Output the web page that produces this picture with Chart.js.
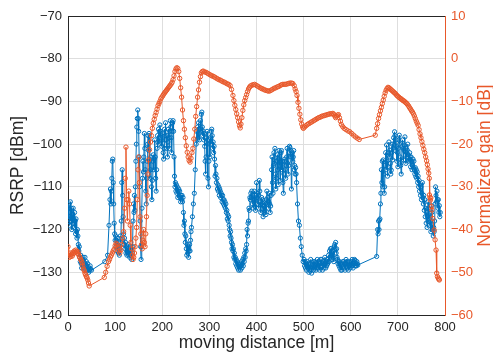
<!DOCTYPE html>
<html><head><meta charset="utf-8">
<script src="https://cdn.jsdelivr.net/npm/chart.js@4.4.0/dist/chart.umd.min.js"></script>
<style>html,body{margin:0;padding:0;background:#fff}#c{display:block}</style>
</head><body>
<canvas id="c" width="493" height="356"></canvas>
<script>
// x axis: moving distance [m]
const xTickValues = [0,100,200,300,400,500,600,700,800];
const leftTickValues = [-140,-130,-120,-110,-100,-90,-80,-70];
const rightTickValues = [-60,-50,-40,-30,-20,-10,0,10];

// RSRP [dBm] : [distance, value]
const rsrpPoints = [
[0,-115],[1,-117.5],[2,-114],[3,-119],[4,-116],[5,-113.5],[6,-118],[7,-115],[8,-120],[9,-116.5],
[10,-118.5],[11,-115],[12,-117.5],[13,-119.5],[14,-116],[15,-118],[16,-121],[17,-117.5],[18,-120.5],[19,-122],
[20,-120],[21,-121.5],[22,-123.5],[23,-125],[24,-124],[25,-126.5],[26,-127.5],[27,-126],[28,-128],[29,-129],
[30,-127.5],[31,-128.5],[32,-126.5],[33,-127.5],[34,-129],[35,-128],[36,-126.5],[37,-128.5],[38,-129.5],[39,-127.5],
[40,-128.5],[41,-129.5],[42,-128],[43,-129.5],[44,-130],[45,-129],[46,-129.5],[47,-128.5],[48,-129.2],[50,-129.5],
[78,-127.5],[84,-126],[87,-119],[89,-113],[90,-110.5],[91,-114],[92,-111],[93,-108],[94,-104],[95,-103.5],
[96,-109],[97,-114],[98,-118.5],[99,-121],[100,-122.5],[101,-121.5],[102,-124],[103,-122.5],[104,-125],[105,-123.5],
[106,-122],[107,-125.5],[108,-124],[109,-126],[110,-124.5],[111,-121.5],[112,-123],[113,-118],[114,-109],[115,-106],
[116,-112],[117,-117],[118,-121],[119,-123.5],[120,-122],[121,-124.5],[122,-123],[123,-125.5],[124,-124],[125,-126],
[126,-124.5],[127,-125.5],[128,-123.5],[129,-126],[130,-125],[131,-126.5],[132,-124],[133,-126],[134,-125],[135,-127],
[136,-125.5],[137,-124],[138,-118],[139,-114],[140,-116],[141,-112],[142,-115.5],[143,-110],[144,-104],[145,-100],
[146,-96],[147,-94],[148,-92],[149,-94],[150,-97],[151,-103],[152,-110],[153,-118],[154,-124],[155,-127],
[156,-124],[157,-115],[158,-108],[159,-104],[160,-106.5],[161,-103],[162,-97.5],[163,-101],[164,-106],[165,-111],
[166,-114],[167,-108],[168,-104],[169,-100],[170,-98],[171,-101.5],[172,-97.5],[173,-104],[174,-108],[175,-106],
[176,-103],[177,-110],[178,-113],[179,-108.5],[180,-104],[181,-102.5],[182,-106],[183,-103.5],[184,-99],[185,-103],
[186,-108],[187,-111],[188,-106],[189,-101],[190,-98],[191,-99.5],[192,-96.5],[193,-100],[194,-97],[195,-95.5],
[196,-98.5],[197,-97],[198,-99],[199,-100.5],[200,-97.5],[201,-99],[202,-102],[203,-103.5],[204,-101],[205,-96.5],
[206,-98],[207,-95],[208,-99],[209,-101],[210,-98],[211,-103],[212,-99.5],[213,-96.5],[214,-98.5],[215,-101],
[216,-97],[217,-94.5],[218,-96],[219,-98.5],[220,-102],[221,-97],[222,-95],[223,-94.5],[224,-97],[225,-103],
[226,-107.5],[227,-110],[228,-109],[229,-111],[230,-109.5],[231,-111.5],[232,-110],[233,-112.5],[234,-111],[235,-110.5],
[236,-112],[237,-111],[238,-112.5],[239,-113.5],[240,-112],[241,-113],[242,-112],[243,-113.5],[244,-112.5],[245,-116],
[246,-119],[247,-118],[248,-121],[249,-123],[250,-121.5],[251,-124.5],[252,-126],[253,-123.5],[254,-125.5],[255,-124],
[256,-126.5],[257,-125],[258,-123.5],[259,-125],[260,-122.5],[261,-120.5],[262,-119.5],[264,-117],[266,-114],[268,-111.5],
[270,-106],[272,-100],[273,-97],[274,-99],[275,-96],[276,-98.5],[277,-95],[278,-97.5],[279,-99],[280,-96.5],
[281,-94.5],[282,-97],[283,-93],[284,-92.5],[285,-96],[286,-98],[287,-97],[288,-99],[289,-97.5],[290,-100.5],
[291,-104],[292,-107],[293,-103],[294,-98.5],[295,-97],[296,-100],[297,-108],[298,-110],[299,-104],[300,-99],
[301,-103],[302,-98.5],[303,-100],[304,-97],[305,-96.5],[306,-98],[307,-101],[308,-99.5],[309,-102],[310,-100.5],
[311,-103.5],[312,-107.5],[313,-105],[314,-107],[315,-109],[316,-108],[317,-110.5],[318,-109.5],[319,-111],[320,-110],
[321,-112],[322,-110.5],[323,-111],[324,-112.5],[325,-111.5],[326,-112],[327,-113.5],[328,-112],[329,-113],[330,-114],
[331,-113],[332,-114.5],[333,-113.5],[334,-115],[335,-114],[336,-116],[337,-115.5],[338,-117.5],[339,-116.5],[340,-118],
[341,-117],[342,-119],[343,-120],[344,-121.5],[345,-120.5],[346,-122],[347,-123],[348,-124.5],[349,-123.5],[350,-125],
[351,-124.5],[352,-126.5],[353,-125.5],[354,-127],[355,-126.5],[356,-128],[357,-127],[358,-128.5],[359,-127.5],[360,-129],
[361,-128],[362,-129.5],[363,-128.5],[364,-129],[365,-128],[366,-129.5],[367,-128.5],[368,-127.5],[369,-129],[370,-128],
[371,-127],[372,-128.5],[373,-126.5],[374,-127.5],[375,-125.5],[376,-126.5],[377,-124.5],[378,-125],[379,-123.5],[380,-120],
[381,-121.5],[382,-118.5],[383,-118],[384,-115],[385,-115.5],[386,-112.5],[387,-113],[388,-111.5],[389,-112.5],[390,-111],
[391,-114],[392,-112],[393,-115],[394,-113],[395,-111],[396,-114.5],[397,-113],[398,-115.5],[399,-112],[400,-109],
[401,-112.5],[402,-114],[403,-111.5],[404,-115],[405,-112],[406,-108.5],[407,-111],[408,-113.5],[409,-116],[410,-114],
[411,-112.5],[412,-115],[413,-113],[414,-117],[415,-114.5],[416,-116],[417,-113.5],[418,-115.5],[419,-114],[420,-116.5],
[421,-113],[422,-111],[423,-114],[424,-112.5],[425,-115],[426,-113.5],[427,-111.5],[428,-114],[429,-116],[430,-114.5],
[431,-112],[432,-106],[433,-103],[434,-109],[435,-111.5],[436,-105],[437,-102],[438,-104.5],[439,-101],[440,-107],
[441,-110.5],[442,-108],[443,-104],[444,-102.5],[445,-106],[446,-109.5],[447,-103.5],[448,-101.5],[449,-105],[450,-108.5],
[451,-104],[452,-102],[453,-101.5],[454,-106],[455,-104],[456,-109],[457,-111.5],[458,-107],[459,-104],[460,-103.5],
[461,-106],[462,-108],[463,-105],[464,-103],[465,-101],[466,-104.5],[467,-107],[468,-105],[469,-102],[470,-100.5],
[471,-100.8],[472,-103],[473,-101.5],[474,-110.5],[475,-103],[476,-102],[477,-104],[478,-103],[479,-101.5],[480,-106],
[481,-105],[482,-107],[483,-105.5],[484,-107],[485,-109],[487,-114],[489,-118],[491,-119],[493,-122],[495,-124],
[497,-126],[499,-127.5],[501,-127],[502,-128.5],[503,-127.5],[504,-129],[505,-128],[506,-129.5],[507,-128.5],[508,-127.5],
[509,-129],[510,-128],[511,-130],[512,-128.5],[513,-129.5],[514,-128],[515,-127],[516,-129],[517,-130.2],[518,-128.5],
[519,-129],[520,-127.5],[521,-129.5],[522,-128],[523,-129],[524,-127.5],[525,-128.5],[526,-129.5],[527,-128],[528,-129],
[529,-127],[530,-128.5],[531,-129],[532,-127.5],[533,-128],[534,-129.5],[535,-128],[536,-127],[537,-128.5],[538,-127],
[539,-128.5],[540,-129.5],[541,-128],[542,-127.5],[543,-129],[544,-128],[545,-126.5],[546,-128],[547,-129],[548,-127.5],
[549,-128.5],[550,-127],[551,-128],[552,-127.5],[553,-126],[554,-127.5],[555,-125],[556,-126.5],[557,-124.5],[558,-126],
[559,-124.4],[560,-127],[561,-125.5],[562,-126.5],[563,-125],[564,-127.5],[565,-124],[566,-123.5],[567,-124.5],[568,-123],
[569,-125.5],[570,-124.5],[571,-126.5],[572,-127],[573,-128],[574,-127.5],[575,-128.5],[576,-127.5],[577,-129],[578,-128],
[579,-129.5],[580,-128.5],[581,-129.5],[582,-128],[583,-127.5],[584,-128.5],[585,-127.5],[586,-129],[587,-128],[588,-129.5],
[589,-128],[590,-127],[591,-128.5],[592,-127.5],[593,-129],[594,-128],[595,-129.5],[596,-128.5],[597,-127.5],[598,-128.5],
[599,-129],[600,-128],[601,-127.5],[602,-128.5],[603,-127],[604,-128],[605,-129],[606,-128],[607,-127.5],[608,-127],
[609,-127.2],[610,-128.5],[611,-128],[612,-128.5],[613,-127.5],[614,-128],[615,-128.3],[655,-126.3],[657,-120],[658,-121],
[659,-118],[660,-120],[661,-117.8],[662,-117.5],[663,-114],[664,-111.5],[665,-106],[666,-109],[667,-104],[668,-110],
[669,-103.7],[670,-107],[671,-111.5],[672,-110],[673,-105],[674,-102],[675,-106],[676,-100.2],[677,-104],[678,-107.5],
[679,-105.3],[680,-102],[681,-99.5],[682,-103],[683,-101.4],[684,-104.5],[685,-107],[686,-106.1],[687,-102],[688,-100],
[689,-103.7],[690,-101],[691,-98.5],[692,-100],[693,-97.1],[694,-98],[695,-101.5],[696,-99],[697,-100.6],[698,-104],
[699,-102],[700,-105.3],[701,-101],[702,-99],[703,-97.9],[704,-100],[705,-103],[706,-105],[707,-107],[708,-104],
[709,-100.5],[710,-99],[711,-101],[712,-103.7],[713,-101.5],[714,-100.2],[715,-98.3],[716,-101],[717,-104.5],[718,-102],
[719,-103],[720,-101.4],[721,-100],[722,-102.5],[723,-104],[724,-103.7],[725,-102],[726,-103],[727,-105.3],[728,-103],
[729,-104],[730,-106],[731,-105],[732,-103.5],[733,-105.5],[734,-104],[735,-106],[736,-107],[737,-105.5],[738,-107.6],
[739,-106],[740,-108],[741,-106.5],[742,-109],[743,-107.5],[744,-110],[745,-108.5],[746,-111],[747,-109.5],[748,-112],
[749,-110],[750,-113],[751,-111.5],[752,-109],[753,-112.5],[754,-114],[755,-112],[756,-115.5],[757,-113],[758,-117],
[759,-115],[760,-118.5],[761,-116],[762,-119.5],[763,-117],[764,-113.5],[765,-115],[766,-117.5],[767,-119],[768,-116.2],
[769,-118],[770,-120.5],[771,-114.4],[772,-116],[773,-118.9],[774,-120],[775,-121.5],[776,-119.5],[777,-120.5],[778,-118],
[779,-114],[780,-110],[781,-112],[782,-113.5],[783,-111],[784,-113],[785,-115],[786,-113],[787,-116],[788,-114.4],
[789,-117],[790,-116]
];

// Normalized gain [dB] : [distance, value]
const gainPoints = [
[0,-44],[1.5,-46],[3,-46.5],[4.5,-45.5],[6,-46.3],[7.5,-45.8],[9,-46.2],[10.5,-45.3],[12,-45.6],[13.5,-45],
[15,-45.3],[16.5,-44.8],[18,-45.1],[19.5,-45.5],[21,-45.2],[22.5,-45.8],[24,-46.3],[25.5,-46.6],[27,-47],[28.5,-47.3],
[30,-47.8],[31.5,-48.5],[33,-49.2],[34.5,-49.6],[36,-50.2],[37.5,-50.6],[39,-51],[40.5,-51.3],[42,-51.8],[43.5,-52.5],
[45,-53.2],[77,-51.2],[80,-50],[83,-48.6],[86,-47.5],[88,-47],[90,-46.4],[92,-46],[94,-45.5],[96,-45],
[98,-44.6],[100,-43.8],[102,-43.2],[104,-43.5],[106,-44.2],[108,-45],[110,-45.5],[112,-44.8],[114,-43.5],[116,-42],
[118,-40.5],[120,-35],[121.5,-28],[123,-20.7],[124.5,-33],[126,-38],[127.5,-33],[129,-31],[130.5,-34],[132,-39],
[133.5,-43],[135,-44.5],[136.5,-46],[138,-47],[139.5,-46.5],[141,-45.5],[142.5,-44],[144,-42],[145.5,-39.5],[147,-33],
[148.5,-26],[150,-23],[151.5,-29],[153,-37],[154.5,-41],[156,-43.5],[157.5,-44.5],[159,-42.5],[160.5,-40],[162,-43],
[163.5,-44],[165,-41],[166.5,-37],[168,-32],[169.5,-27],[171,-23.7],[173,-21.3],[175,-19.5],[177,-18],[179,-16.3],
[181,-15.1],[183,-14.2],[185,-13.3],[187,-12.6],[189,-11.8],[191,-11],[193,-10.5],[195,-10],[197,-9.4],[199,-9],
[201,-8.7],[203,-8.3],[205,-8],[207,-7.7],[209,-7.4],[211,-7.1],[213,-6.8],[215,-6.5],[217,-6.2],[219,-5.9],
[221,-5.5],[223,-4.9],[225,-4],[227,-3],[229,-2.4],[231,-2.1],[233,-2.3],[235,-3],[237,-4.6],[239,-6.8],
[241,-9],[243,-12],[245,-14.5],[247,-16.5],[249,-18.5],[251,-20.4],[253,-21.9],[255,-23],[257,-23.8],[259,-24.2],
[261,-23.3],[263,-22],[265,-21],[267,-18.8],[269,-16.5],[271,-13.5],[273,-11.2],[275,-9],[277,-7.3],[279,-5.5],
[281,-4.2],[283,-3.3],[285,-3],[287,-2.9],[290,-3.1],[293,-3.2],[296,-3.4],[299,-3.6],[302,-3.8],[305,-4],
[308,-4.1],[311,-4.3],[314,-4.5],[317,-4.7],[320,-4.9],[323,-5],[326,-5.2],[329,-5.4],[332,-5.5],[335,-5.7],
[338,-5.9],[341,-6],[344,-6.3],[347,-7.2],[350,-8.6],[352,-9.8],[354,-10.9],[356,-11.9],[358,-12.9],[360,-13.8],
[362,-14.8],[364,-15.7],[365.5,-16.2],[367,-15.3],[369,-13.8],[371,-12.1],[373,-10.8],[375,-9.8],[377,-9.1],[379,-8.4],
[381,-7.7],[383,-7.1],[385,-6.7],[387,-6.4],[390,-6.2],[393,-6.1],[396,-6],[399,-6.2],[402,-6.4],[405,-6.6],
[408,-6.8],[411,-7],[414,-7.1],[417,-7.3],[420,-7.4],[423,-7.5],[426,-7.6],[429,-7.5],[432,-7.3],[435,-7.1],
[438,-6.9],[441,-6.8],[444,-6.6],[447,-6.5],[450,-6.3],[453,-6.1],[456,-6],[459,-6],[462,-6],[465,-5.9],
[468,-5.8],[471,-5.7],[474,-5.7],[477,-5.8],[480,-6.3],[482,-7.1],[484,-7.7],[486,-8.6],[488,-10.2],[490,-11.6],
[492,-13],[494,-14.3],[496,-15.3],[498,-16],[499.5,-16.3],[502,-16],[505,-15.7],[508,-15.4],[511,-15.2],[514,-15],
[517,-14.8],[520,-14.6],[523,-14.4],[526,-14.2],[529,-14],[532,-13.8],[535,-13.7],[538,-13.5],[541,-13.4],[544,-13.3],
[547,-13.2],[550,-13.1],[553,-13],[556,-12.9],[559,-12.9],[562,-12.8],[564,-13],[566,-13.4],[568,-13.8],[570,-13.5],
[572,-13.2],[574,-13.1],[576,-13.8],[578,-14.6],[580,-15.4],[583,-15.9],[586,-16.3],[590,-16.6],[594,-16.9],[598,-17.1],
[602,-17.5],[606,-17.9],[610,-18.3],[614,-18.6],[618,-18.9],[652,-17.9],[655,-16.3],[657,-15.2],[659,-14],[661,-13.1],
[663,-12.2],[665,-11.4],[667,-10.5],[669,-9.7],[671,-8.8],[673,-8],[675,-7.4],[677,-7],[679,-6.7],[681,-6.8],
[683,-7],[685,-7.2],[687,-7.4],[689,-7.6],[691,-7.8],[693,-8],[695,-8.2],[697,-8.5],[699,-8.7],[701,-8.9],
[703,-9.1],[705,-9.3],[707,-9.4],[709,-9.6],[711,-9.8],[713,-9.9],[715,-10.1],[717,-10.3],[719,-10.5],[721,-10.8],
[723,-11.1],[725,-11.5],[727,-11.8],[729,-12.2],[731,-12.5],[733,-12.9],[735,-13.4],[737,-14],[739,-14.6],[741,-15.1],
[743,-15.6],[745,-16.6],[747,-17.6],[749,-18.5],[751,-19.4],[753,-20.3],[755,-21.2],[757,-22],[759,-23],[761,-23.9],
[762.5,-24.8],[764,-25.8],[765.5,-26.8],[766.7,-28],[767,-31.9],[768,-32.5],[769,-33.1],[770,-32.6],[771,-34.6],[772,-35.4],
[774,-37.4],[777,-40.1],[779,-42.4],[781,-44.8],[782.4,-50.2],[784,-51],[785.8,-51.4],[787,-51.6],[788,-51.8]
];

const BLUE = '#0072BD';
const ORANGE = '#E8582A';
const DARK = '#262626';
const FONT = "'Liberation Sans', Arial, sans-serif";
const fmt = v => String(v).replace('-', '\u2212');

const extraFrame = {
  id: 'extraFrame',
  afterDraw(chart) {
    const {ctx, chartArea: a} = chart;
    ctx.save();
    ctx.strokeStyle = DARK;
    ctx.lineWidth = 1;
    ctx.beginPath();
    ctx.moveTo(a.left, a.top + 0.5);
    ctx.lineTo(a.right, a.top + 0.5);
    ctx.stroke();
    ctx.translate(485, (a.top + a.bottom) / 2);
    ctx.rotate(-Math.PI / 2);
    ctx.fillStyle = ORANGE;
    ctx.font = "17.5px " + FONT;
    ctx.textAlign = 'center';
    ctx.textBaseline = 'middle';
    ctx.fillText('Normalized gain [dB]', 0, 0);
    ctx.restore();
  }
};

new Chart(document.getElementById('c'), {
  type: 'scatter',
  data: {
    datasets: [
      {
        label: 'Normalized gain',
        data: gainPoints.map(p => ({x: p[0], y: p[1]})),
        yAxisID: 'y2',
        showLine: true,
        borderColor: ORANGE,
        borderWidth: 1,
        pointRadius: 2.2,
        pointBorderWidth: 1,
        pointBorderColor: ORANGE,
        pointBackgroundColor: 'rgba(0,0,0,0)'
      },
      {
        label: 'RSRP',
        data: rsrpPoints.map(p => ({x: p[0], y: p[1]})),
        yAxisID: 'y',
        showLine: true,
        borderColor: BLUE,
        borderWidth: 1,
        pointRadius: 2.1,
        pointBorderWidth: 1,
        pointBorderColor: BLUE,
        pointBackgroundColor: 'rgba(0,0,0,0)'
      }
    ]
  },
  options: {
    responsive: false,
    devicePixelRatio: 1,
    animation: false,
    events: [],
    layout: {padding: {top: 16, left: 0, right: 0, bottom: 0}},
    plugins: {legend: {display: false}, tooltip: {enabled: false}},
    scales: {
      x: {
        type: 'linear', min: 0, max: 800,
        afterBuildTicks: s => { s.ticks = xTickValues.map(v => ({value: v})); },
        ticks: {font: {family: FONT, size: 13}, color: DARK, padding: 5, maxRotation: 0, callback: v => fmt(v)},
        grid: {color: '#dedede', drawTicks: false},
        border: {color: DARK, width: 1},
        title: {display: true, text: 'moving distance [m]', color: DARK, font: {family: FONT, size: 17.5}, padding: {top: 0, bottom: 2}},
        afterFit: s => { s.height = 41; }
      },
      y: {
        type: 'linear', position: 'left', min: -140, max: -70,
        afterBuildTicks: s => { s.ticks = leftTickValues.map(v => ({value: v})); },
        ticks: {font: {family: FONT, size: 13}, color: DARK, padding: 6, callback: v => fmt(v)},
        grid: {color: '#dedede', drawTicks: false},
        border: {color: DARK, width: 1},
        title: {display: true, text: 'RSRP [dBm]', color: DARK, font: {family: FONT, size: 17.5}, padding: {top: 8, bottom: 0}},
        afterFit: s => { s.width = 68; }
      },
      y2: {
        type: 'linear', position: 'right', min: -60, max: 10,
        afterBuildTicks: s => { s.ticks = rightTickValues.map(v => ({value: v})); },
        ticks: {font: {family: FONT, size: 13}, color: ORANGE, padding: 6, callback: v => fmt(v)},
        grid: {drawOnChartArea: false, drawTicks: false},
        border: {color: ORANGE, width: 1},
        afterFit: s => { s.width = 48; }
      }
    }
  },
  plugins: [extraFrame]
});
</script>
</body></html>
